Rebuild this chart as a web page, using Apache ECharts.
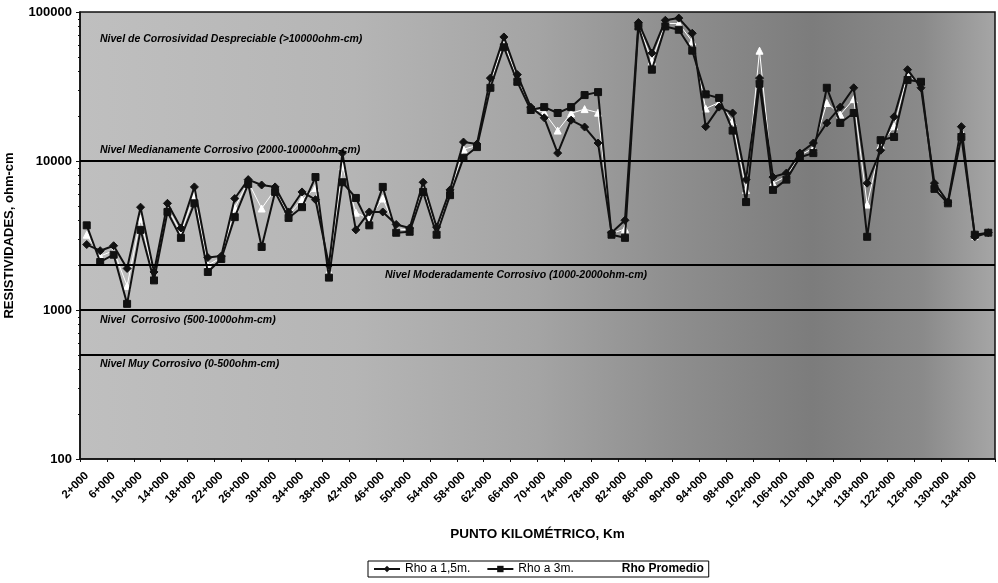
<!DOCTYPE html>
<html>
<head>
<meta charset="utf-8">
<script src="https://cdn.jsdelivr.net/npm/echarts@6/dist/echarts.min.js"></script>
<style>
  html, body { margin: 0; padding: 0; background: #fff; }
  #chart { width: 998px; height: 583px; }
</style>
</head>
<body>
<div id="chart"></div>
<script>
const puntos = [
  '2+000', '4+000', '6+000', '8+000', '10+000', '12+000', '14+000', '16+000', '18+000', '20+000',
  '22+000', '24+000', '26+000', '28+000', '30+000', '32+000', '34+000', '36+000', '38+000', '40+000',
  '42+000', '44+000', '46+000', '48+000', '50+000', '52+000', '54+000', '56+000', '58+000', '60+000',
  '62+000', '64+000', '66+000', '68+000', '70+000', '72+000', '74+000', '76+000', '78+000', '80+000',
  '82+000', '84+000', '86+000', '88+000', '90+000', '92+000', '94+000', '96+000', '98+000', '100+000',
  '102+000', '104+000', '106+000', '108+000', '110+000', '112+000', '114+000', '116+000', '118+000', '120+000',
  '122+000', '124+000', '126+000', '128+000', '130+000', '132+000', '134+000', '136+000'
]

// Rho a 1,5m (ohm-cm)
const rho15 = [
  2750, 2500, 2700, 1900, 4900, 1800, 5200, 3550, 6700, 2250,
  2300, 5600, 7500, 6900, 6700, 4550, 6200, 5500, 2000, 11300,
  3450, 4550, 4550, 3750, 3550, 7200, 3600, 6400, 13400, 13000,
  36000, 68000, 38000, 23000, 19500, 11300, 18800, 16900, 13200, 3300,
  4000, 85000, 53000, 88000, 91000, 72000, 17000, 23000, 21000, 7500,
  36000, 7800, 8300, 11300, 13200, 18000, 23000, 31000, 7100, 11800,
  19800, 41000, 31000, 7100, 5300, 17000, 3100, 3300
]

// Rho a 3m (ohm-cm)
const rho3 = [
  3700, 2100, 2350, 1100, 3450, 1580, 4550, 3050, 5200, 1800,
  2200, 4200, 7000, 2650, 6200, 4150, 4900, 7800, 1650, 7200,
  5650, 3700, 6700, 3300, 3350, 6200, 3200, 5900, 10500, 12400,
  31000, 58000, 34000, 22000, 23000, 21000, 23000, 27700, 29000, 3200,
  3050, 80000, 41000, 80000, 76000, 55000, 28000, 26500, 16000, 5300,
  33000, 6400, 7500, 10600, 11300, 31000, 18000, 21000, 3100, 13800,
  14500, 35000, 34000, 6500, 5200, 14500, 3200, 3300
]

// Rho Promedio (ohm-cm)
const rhoProm = [
  3200, 2300, 2500, 1450, 4100, 1700, 4850, 3300, 5900, 2000,
  2250, 4850, 7250, 4800, 6450, 4350, 5500, 6600, 1820, 9200,
  4500, 4100, 5600, 3500, 3450, 6700, 3400, 6150, 12000, 12700,
  33500, 63000, 36000, 22500, 21200, 16000, 20900, 22300, 21100, 3250,
  3500, 82500, 47000, 84000, 83500, 63500, 22500, 24700, 18500, 6400,
  55000, 7100, 7900, 10900, 12200, 24500, 20500, 26000, 5100, 12800,
  17100, 38000, 32500, 6800, 5250, 15700, 3150, 3300
]

const nivelFont = { fontFamily: 'Liberation Sans', fontSize: 10.5, fontStyle: 'italic', fontWeight: 'bold', color: '#000' }

const chart = echarts.init(document.getElementById('chart'))

chart.setOption({
  animation: false,
  textStyle: { fontFamily: 'Liberation Sans' },
  grid: {
    left: 80,
    right: 3,
    top: 12,
    bottom: 124,
    outerBoundsMode: 'none',
    show: true,
    borderColor: '#111',
    borderWidth: 1.5,
    backgroundColor: new echarts.graphic.LinearGradient(0, 0, 1, 0, [
      { offset: 0, color: '#bfbfbf' },
      { offset: 0.3, color: '#b5b5b5' },
      { offset: 0.5, color: '#a4a4a4' },
      { offset: 0.65, color: '#8e8e8e' },
      { offset: 0.8, color: '#7c7c7c' },
      { offset: 0.92, color: '#8a8a8a' },
      { offset: 1, color: '#a6a6a6' }
    ])
  },
  legend: {
    bottom: 6,
    left: 368,
    data: [
      'Rho a 1,5m.',
      'Rho a 3m.',
      { name: 'Rho Promedio', textStyle: { fontWeight: 'bold' } }
    ],
    borderColor: '#000',
    borderWidth: 1,
    padding: [2, 5],
    itemGap: 16,
    itemWidth: 26,
    itemHeight: 8,
    textStyle: { fontFamily: 'Liberation Sans', fontSize: 12, color: '#000' }
  },
  xAxis: {
    type: 'category',
    data: puntos,
    name: 'PUNTO KILOMÉTRICO, Km',
    nameLocation: 'middle',
    nameGap: 68,
    nameTextStyle: { fontFamily: 'Liberation Sans', fontSize: 13.5, fontWeight: 'bold', color: '#000' },
    axisLine: { lineStyle: { color: '#111', width: 1.5 } },
    axisTick: { show: true, length: 3, lineStyle: { color: '#111' } },
    axisLabel: {
      interval: 1,
      rotate: 45,
      margin: 15,
      fontFamily: 'Liberation Sans',
      fontSize: 11.5,
      fontWeight: 'bold',
      color: '#000'
    },
    splitLine: { show: false }
  },
  yAxis: {
    type: 'log',
    logBase: 10,
    min: 100,
    max: 100000,
    name: 'RESISTIVIDADES, ohm-cm',
    nameLocation: 'middle',
    nameGap: 64,
    nameTextStyle: { fontFamily: 'Liberation Sans', fontSize: 13, fontWeight: 'bold', color: '#000' },
    axisLine: { show: true, lineStyle: { color: '#111', width: 1.5 } },
    axisTick: { show: true, length: 4, lineStyle: { color: '#111' } },
    minorTick: { show: true, splitNumber: 9, length: 2, lineStyle: { color: '#111' } },
    axisLabel: {
      margin: 8,
      fontFamily: 'Liberation Sans',
      fontSize: 13,
      fontWeight: 'bold',
      color: '#000',
      formatter: v => String(Math.round(v))
    },
    splitLine: { show: false }
  },
  series: [
    {
      name: 'Rho Promedio',
      type: 'line',
      data: rhoProm,
      z: 1,
      symbol: 'triangle',
      symbolSize: 7,
      lineStyle: { color: '#fff', width: 1 },
      itemStyle: { color: '#fff', borderColor: '#fff' }
    },
    {
      name: 'Rho a 1,5m.',
      type: 'line',
      data: rho15,
      z: 3,
      symbol: 'diamond',
      symbolSize: 8,
      lineStyle: { color: '#111', width: 2 },
      itemStyle: { color: '#111', borderColor: '#111' },
      markLine: {
        silent: true,
        symbol: 'none',
        lineStyle: { color: '#000', width: 2, type: 'solid' },
        data: [
          {
            yAxis: 60000,
            lineStyle: { color: 'rgba(0,0,0,0)' },
            label: { formatter: 'Nivel de Corrosividad Despreciable (>10000ohm-cm)', position: 'insideStartTop', distance: [20, 0], ...nivelFont }
          },
          {
            yAxis: 10000,
            label: { formatter: 'Nivel Medianamente Corrosivo (2000-10000ohm-cm)', position: 'insideStartTop', distance: [20, 5], ...nivelFont }
          },
          {
            yAxis: 2000,
            label: { formatter: 'Nivel Moderadamente Corrosivo (1000-2000ohm-cm)', position: 'insideStartBottom', distance: [305, 4], ...nivelFont }
          },
          {
            yAxis: 1000,
            label: { formatter: 'Nivel  Corrosivo (500-1000ohm-cm)', position: 'insideStartBottom', distance: [20, 5], ...nivelFont }
          },
          {
            yAxis: 500,
            label: { formatter: 'Nivel Muy Corrosivo (0-500ohm-cm)', position: 'insideStartBottom', distance: [20, 4], ...nivelFont }
          }
        ]
      }
    },
    {
      name: 'Rho a 3m.',
      type: 'line',
      data: rho3,
      z: 2,
      symbol: 'rect',
      symbolSize: 7,
      lineStyle: { color: '#111', width: 2 },
      itemStyle: { color: '#111', borderColor: '#111' }
    }
  ]
})
</script>
</body>
</html>
